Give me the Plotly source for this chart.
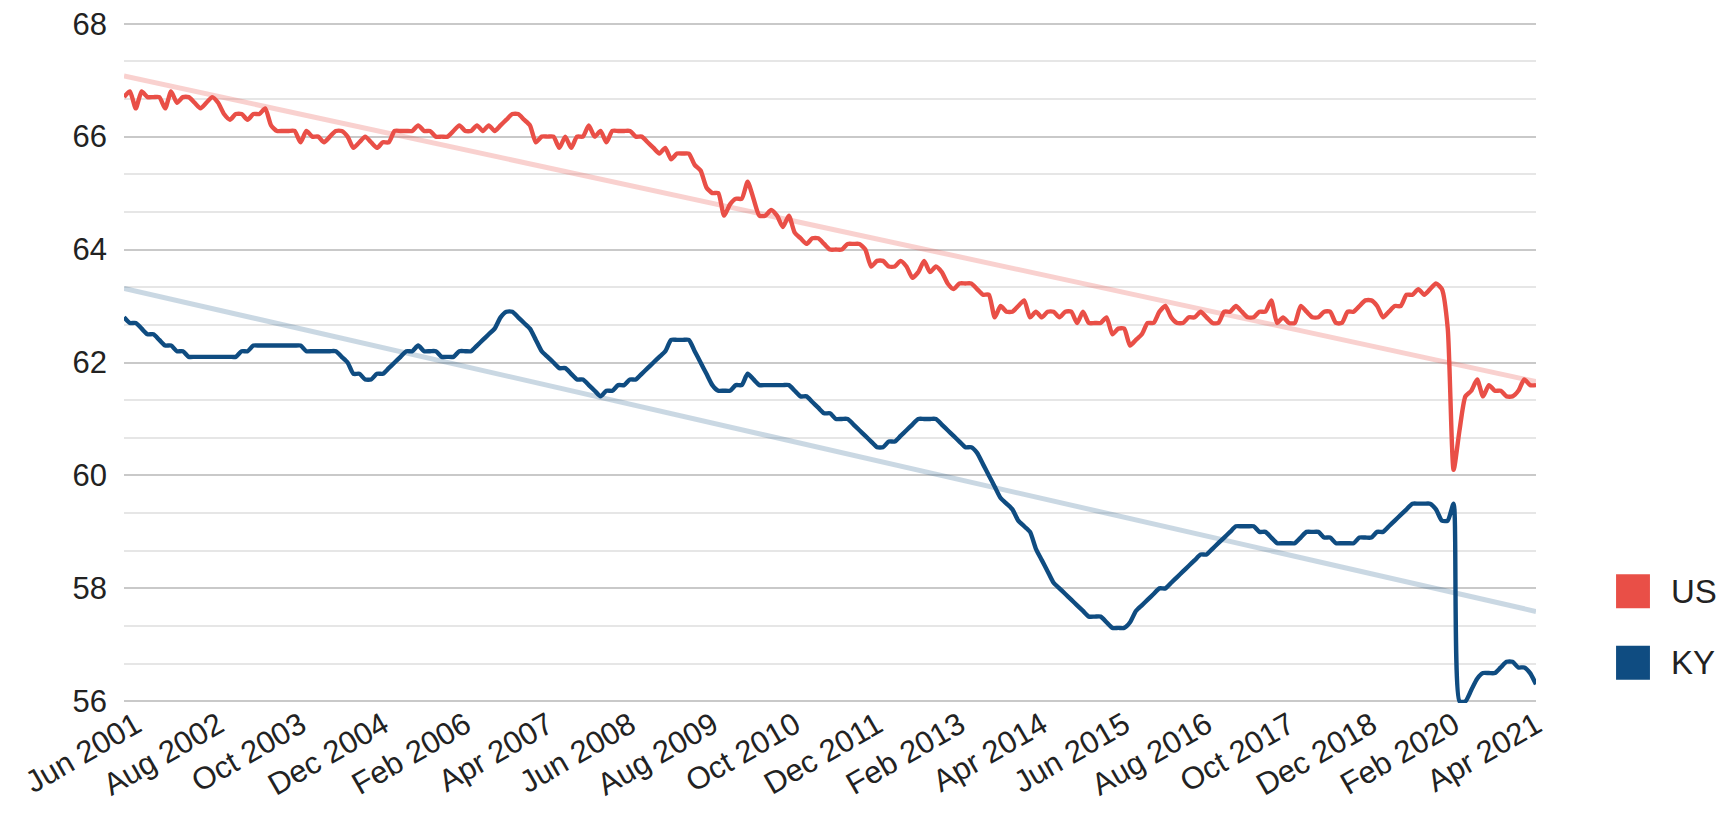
import numpy as np
import plotly.graph_objects as go

# ---------------- data ----------------
MONTH_NAMES = ["Jan", "Feb", "Mar", "Apr", "May", "Jun",
               "Jul", "Aug", "Sep", "Oct", "Nov", "Dec"]
START = (2001, 6)   # Jun 2001
END = (2021, 6)     # Jun 2021

# US labor force participation rate (%), monthly
US_2001 = [66.7, 66.8, 66.5, 66.8, 66.7, 66.7, 66.7]  # Jun-Dec
US_2002 = [66.5, 66.8, 66.6, 66.7, 66.7, 66.6, 66.5, 66.6, 66.7, 66.6, 66.4, 66.3]
US_2003 = [66.4, 66.4, 66.3, 66.4, 66.4, 66.5, 66.2, 66.1, 66.1, 66.1, 66.1, 65.9]
US_2004 = [66.1, 66.0, 66.0, 65.9, 66.0, 66.1, 66.1, 66.0, 65.8, 65.9, 66.0, 65.9]
US_2005 = [65.8, 65.9, 65.9, 66.1, 66.1, 66.1, 66.1, 66.2, 66.1, 66.1, 66.0, 66.0]
US_2006 = [66.0, 66.1, 66.2, 66.1, 66.1, 66.2, 66.1, 66.2, 66.1, 66.2, 66.3, 66.4]
US_2007 = [66.4, 66.3, 66.2, 65.9, 66.0, 66.0, 66.0, 65.8, 66.0, 65.8, 66.0, 66.0]
US_2008 = [66.2, 66.0, 66.1, 65.9, 66.1, 66.1, 66.1, 66.1, 66.0, 66.0, 65.9, 65.8]
US_2009 = [65.7, 65.8, 65.6, 65.7, 65.7, 65.7, 65.5, 65.4, 65.1, 65.0, 65.0, 64.6]
US_2010 = [64.8, 64.9, 64.9, 65.2, 64.9, 64.6, 64.6, 64.7, 64.6, 64.4, 64.6, 64.3]
US_2011 = [64.2, 64.1, 64.2, 64.2, 64.1, 64.0, 64.0, 64.0, 64.1, 64.1, 64.1, 64.0]
US_2012 = [63.7, 63.8, 63.8, 63.7, 63.7, 63.8, 63.7, 63.5, 63.6, 63.8, 63.6, 63.7]
US_2013 = [63.6, 63.4, 63.3, 63.4, 63.4, 63.4, 63.3, 63.2, 63.2, 62.8, 63.0, 62.9]
US_2014 = [62.9, 63.0, 63.1, 62.8, 62.9, 62.8, 62.9, 62.9, 62.8, 62.9, 62.9, 62.7]
US_2015 = [62.9, 62.7, 62.7, 62.7, 62.8, 62.5, 62.6, 62.6, 62.3, 62.4, 62.5, 62.7]
US_2016 = [62.7, 62.9, 63.0, 62.8, 62.7, 62.7, 62.8, 62.8, 62.9, 62.8, 62.7, 62.7]
US_2017 = [62.9, 62.9, 63.0, 62.9, 62.8, 62.8, 62.9, 62.9, 63.1, 62.7, 62.8, 62.7]
US_2018 = [62.7, 63.0, 62.9, 62.8, 62.8, 62.9, 62.9, 62.7, 62.7, 62.9, 62.9, 63.0]
US_2019 = [63.1, 63.1, 63.0, 62.8, 62.9, 63.0, 63.0, 63.2, 63.2, 63.3, 63.2, 63.3]
US_2020 = [63.4, 63.3, 62.6, 60.1, 60.8, 61.4, 61.5, 61.7, 61.4, 61.6, 61.5, 61.5]
US_2021 = [61.4, 61.4, 61.5, 61.7, 61.6, 61.6]  # Jan-Jun

# Kentucky labor force participation rate (%), monthly
KY_2001 = [62.8, 62.7, 62.7, 62.6, 62.5, 62.5, 62.4]  # Jun-Dec
KY_2002 = [62.3, 62.3, 62.2, 62.2, 62.1, 62.1, 62.1, 62.1, 62.1, 62.1, 62.1, 62.1]
KY_2003 = [62.1, 62.2, 62.2, 62.3, 62.3, 62.3, 62.3, 62.3, 62.3, 62.3, 62.3, 62.3]
KY_2004 = [62.2, 62.2, 62.2, 62.2, 62.2, 62.2, 62.1, 62.0, 61.8, 61.8, 61.7, 61.7]
KY_2005 = [61.8, 61.8, 61.9, 62.0, 62.1, 62.2, 62.2, 62.3, 62.2, 62.2, 62.2, 62.1]
KY_2006 = [62.1, 62.1, 62.2, 62.2, 62.2, 62.3, 62.4, 62.5, 62.6, 62.8, 62.9, 62.9]
KY_2007 = [62.8, 62.7, 62.6, 62.4, 62.2, 62.1, 62.0, 61.9, 61.9, 61.8, 61.7, 61.7]
KY_2008 = [61.6, 61.5, 61.4, 61.5, 61.5, 61.6, 61.6, 61.7, 61.7, 61.8, 61.9, 62.0]
KY_2009 = [62.1, 62.2, 62.4, 62.4, 62.4, 62.4, 62.2, 62.0, 61.8, 61.6, 61.5, 61.5]
KY_2010 = [61.5, 61.6, 61.6, 61.8, 61.7, 61.6, 61.6, 61.6, 61.6, 61.6, 61.6, 61.5]
KY_2011 = [61.4, 61.4, 61.3, 61.2, 61.1, 61.1, 61.0, 61.0, 61.0, 60.9, 60.8, 60.7]
KY_2012 = [60.6, 60.5, 60.5, 60.6, 60.6, 60.7, 60.8, 60.9, 61.0, 61.0, 61.0, 61.0]
KY_2013 = [60.9, 60.8, 60.7, 60.6, 60.5, 60.5, 60.4, 60.2, 60.0, 59.8, 59.6, 59.5]
KY_2014 = [59.4, 59.2, 59.1, 59.0, 58.7, 58.5, 58.3, 58.1, 58.0, 57.9, 57.8, 57.7]
KY_2015 = [57.6, 57.5, 57.5, 57.5, 57.4, 57.3, 57.3, 57.3, 57.4, 57.6, 57.7, 57.8]
KY_2016 = [57.9, 58.0, 58.0, 58.1, 58.2, 58.3, 58.4, 58.5, 58.6, 58.6, 58.7, 58.8]
KY_2017 = [58.9, 59.0, 59.1, 59.1, 59.1, 59.1, 59.0, 59.0, 58.9, 58.8, 58.8, 58.8]
KY_2018 = [58.8, 58.9, 59.0, 59.0, 59.0, 58.9, 58.9, 58.8, 58.8, 58.8, 58.8, 58.9]
KY_2019 = [58.9, 58.9, 59.0, 59.0, 59.1, 59.2, 59.3, 59.4, 59.5, 59.5, 59.5, 59.5]
KY_2020 = [59.4, 59.2, 59.2, 59.5, 56.0, 56.0, 56.2, 56.4, 56.5, 56.5, 56.5, 56.6]
KY_2021 = [56.7, 56.7, 56.6, 56.6, 56.5, 56.3]  # Jan-Jun

TICK_LABELS = ["Jun 2001", "Aug 2002", "Oct 2003", "Dec 2004", "Feb 2006",
               "Apr 2007", "Jun 2008", "Aug 2009", "Oct 2010", "Dec 2011",
               "Feb 2013", "Apr 2014", "Jun 2015", "Aug 2016", "Oct 2017",
               "Dec 2018", "Feb 2020", "Apr 2021"]
TICK_STEP = 14
SERIES_NAMES = ["US", "KY"]

# ---------------- assemble ----------------
US = (US_2001 + US_2002 + US_2003 + US_2004 + US_2005 + US_2006 + US_2007 +
      US_2008 + US_2009 + US_2010 + US_2011 + US_2012 + US_2013 + US_2014 +
      US_2015 + US_2016 + US_2017 + US_2018 + US_2019 + US_2020 + US_2021)
KY = (KY_2001 + KY_2002 + KY_2003 + KY_2004 + KY_2005 + KY_2006 + KY_2007 +
      KY_2008 + KY_2009 + KY_2010 + KY_2011 + KY_2012 + KY_2013 + KY_2014 +
      KY_2015 + KY_2016 + KY_2017 + KY_2018 + KY_2019 + KY_2020 + KY_2021)

categories = []
y, m = START
while (y, m) <= END:
    categories.append(f"{MONTH_NAMES[m - 1]} {y}")
    m += 1
    if m > 12:
        m, y = 1, y + 1
assert len(categories) == len(US) == len(KY)

idx = np.arange(len(categories))
tickvals = [categories[i] for i in range(0, len(categories), TICK_STEP)]

RED = "#e94f47"
BLUE = "#0f4c81"
RED_T = "rgba(233,79,71,0.26)"
BLUE_T = "rgba(15,76,129,0.22)"

fig = go.Figure()

# linear trendlines (OLS fit over the month index)
for series, col in ((US, RED_T), (KY, BLUE_T)):
    k, b = np.polyfit(idx, series, 1)
    fig.add_trace(go.Scatter(
        x=[categories[0], categories[-1]],
        y=[b + k * idx[0], b + k * idx[-1]],
        mode="lines", line=dict(color=col, width=5),
        hoverinfo="skip", showlegend=False))

for name, series, col in ((SERIES_NAMES[0], US, RED), (SERIES_NAMES[1], KY, BLUE)):
    fig.add_trace(go.Scatter(
        x=categories, y=series, name=name, mode="lines",
        line=dict(color=col, width=4.4, shape="spline", smoothing=0.6),
        showlegend=False))

FONT = "Liberation Sans, Arial, sans-serif"

# page body has an 8px margin, so the figure is sized to fit inside the window
fig.update_layout(
    width=1715, height=811,
    margin=dict(l=116, r=187, t=14, b=116, autoexpand=False),
    paper_bgcolor="white", plot_bgcolor="white",
    font=dict(family=FONT, size=31, color="#222222"),
    showlegend=False,
)
fig.update_xaxes(
    type="category", categoryorder="array", categoryarray=categories,
    range=[0, len(categories) - 1], automargin=False,
    tickmode="array", tickvals=tickvals, ticktext=TICK_LABELS,
    tickangle=-30, showgrid=False, zeroline=False, showline=False,
    ticks="", tickfont=dict(size=31, color="#222222"),
    ticklabelshift=12, ticklabelstandoff=-3,
)
fig.update_yaxes(
    range=[55.97, 68.03], dtick=2, tick0=56, automargin=False,
    showgrid=True, gridcolor="#c9c9c9", gridwidth=2,
    minor=dict(dtick=2 / 3, tick0=56, showgrid=True, gridcolor="#e6e6e6", gridwidth=2),
    zeroline=False, showline=False, ticks="",
    tickfont=dict(size=31, color="#222222"),
    ticklabelstandoff=16, ticklabeloverflow="allow",
)

# legend drawn as coloured squares with labels, right of the plot
leg_items = [(SERIES_NAMES[0], RED, 0.164), (SERIES_NAMES[1], BLUE, 0.059)]
for name, col, yc in leg_items:
    fig.add_shape(type="rect", xref="paper", yref="paper",
                  x0=1.0567, x1=1.0807, y0=yc - 0.025, y1=yc + 0.025,
                  fillcolor=col, line=dict(width=0))
    fig.add_annotation(xref="paper", yref="paper", x=1.094, y=yc,
                       text=name, showarrow=False, xanchor="left", yanchor="middle",
                       font=dict(size=33, color="#222222", family=FONT))

fig.write_html("out.html")
